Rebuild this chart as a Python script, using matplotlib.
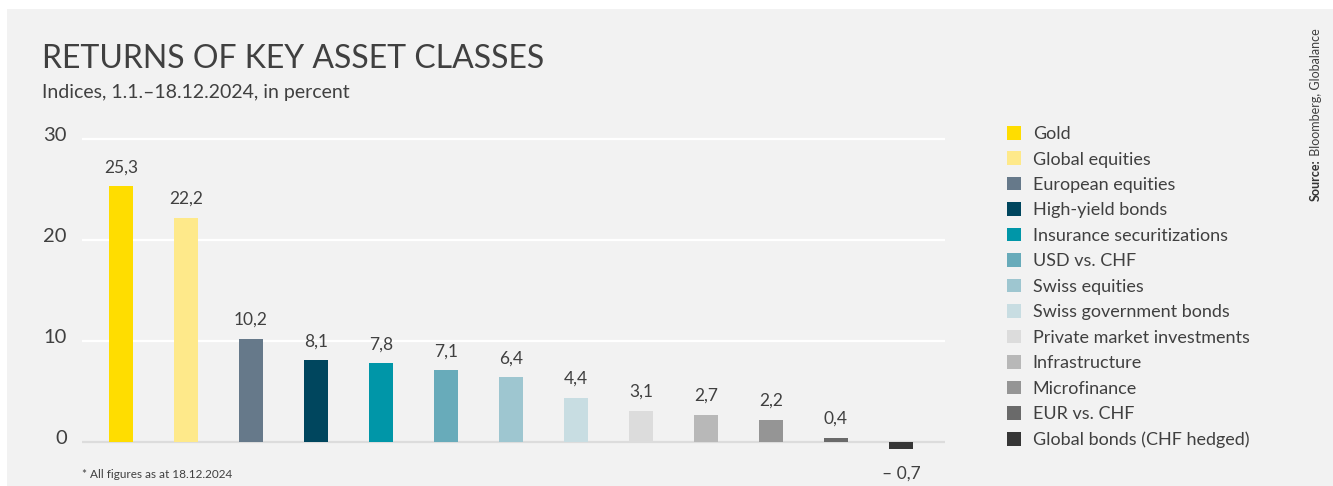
import matplotlib.pyplot as plt
from matplotlib.patches import Rectangle
from matplotlib.transforms import ScaledTranslation

plt.rcParams['font.family'] = ['Lato', 'DejaVu Sans']

# data
assets = ["Gold", "Global equities", "European equities", "High-yield bonds",
          "Insurance securitizations", "USD vs. CHF", "Swiss equities",
          "Swiss government bonds", "Private market investments", "Infrastructure",
          "Microfinance", "EUR vs. CHF", "Global bonds (CHF hedged)"]
returns = [25.3, 22.2, 10.2, 8.1, 7.8, 7.1, 6.4, 4.4, 3.1, 2.7, 2.2, 0.4, -0.7]
colors = ["#FFDD00", "#FEE98A", "#66798A", "#00465E", "#0096A8", "#68ABBA",
          "#9EC6D0", "#C8DDE2", "#DCDCDC", "#B8B8B8", "#959595", "#6A6A6A", "#363636"]
yticks = [0, 10, 20, 30]

txt = "#404040"
bg = "#f2f2f2"

fig = plt.figure(figsize=(13.33, 4.86), dpi=100)
fig.patch.set_facecolor("white")
# grey panel
fig.patches.append(Rectangle((7 / 1333, 0), 1, 1 - 9 / 486, transform=fig.transFigure,
                             facecolor=bg, edgecolor="none", zorder=-10))

ax = fig.add_axes([82 / 1333, 0.0282, (945 - 82) / 1333, 0.7066])
ax.set_facecolor("none")

x = list(range(len(assets)))
bars = ax.bar(x, returns, width=0.354, color=colors, zorder=3)

ax.set_xlim(-0.6, 12.677)
ax.set_ylim(-3, 31)

for v in yticks:
    ax.axhline(v, color="white" if v else "#dcdcdc", lw=1.6, zorder=1)

ax.set_yticks(yticks)
ax.set_yticklabels([str(v) for v in yticks], fontsize=14.5, color=txt)
ax.tick_params(axis="y", length=0, pad=11)
off = ScaledTranslation(0, 5 / 100, fig.dpi_scale_trans)
for lab in ax.get_yticklabels():
    lab.set_transform(lab.get_transform() + off)
ax.set_xticks([])
for s in ax.spines.values():
    s.set_visible(False)

# value labels
for xi, v in zip(x, returns):
    if v >= 0:
        s = f"{v:.1f}".replace(".", ",")
        ax.annotate(s, (xi, v), xytext=(0, 10), textcoords="offset points",
                    ha="center", va="baseline", fontsize=12.5, color=txt)
    else:
        s = "– " + f"{abs(v):.1f}".replace(".", ",")
        ax.annotate(s, (xi, v), xytext=(0, -21.5), textcoords="offset points",
                    ha="center", va="baseline", fontsize=12.5, color=txt)

# legend
leg = ax.legend(bars, assets, loc="upper left", bbox_to_anchor=(1007 / 1333, 1 - 126 / 486),
                bbox_transform=fig.transFigure, frameon=False, fontsize=13,
                handlelength=0.78, handleheight=0.78, handletextpad=0.65,
                labelspacing=0.52, borderpad=0, borderaxespad=0)
for t in leg.get_texts():
    t.set_color(txt)

# titles
fig.text(42 / 1333, 1 - 68 / 486, "RETURNS OF KEY ASSET CLASSES", fontsize=23,
         color=txt, va="baseline", ha="left")
fig.text(42 / 1333, 1 - 98 / 486, "Indices, 1.1.–18.12.2024, in percent", fontsize=14,
         color=txt, va="baseline", ha="left")
fig.text(82 / 1333, 1 - 478 / 486, "* All figures as at 18.12.2024", fontsize=8.5,
         color=txt, va="baseline", ha="left")
src = fig.text(1316 / 1333, 1 - 201 / 486, "Source:", fontsize=9, fontweight="bold",
               color="#333333", rotation=90, ha="center", va="bottom")
ax.annotate(" Bloomberg, Globalance", xy=(0.5, 1), xycoords=src, fontsize=9, color=txt,
            rotation=90, ha="center", va="bottom", annotation_clip=False)

fig.savefig("out.png", dpi=100, facecolor=fig.get_facecolor())
